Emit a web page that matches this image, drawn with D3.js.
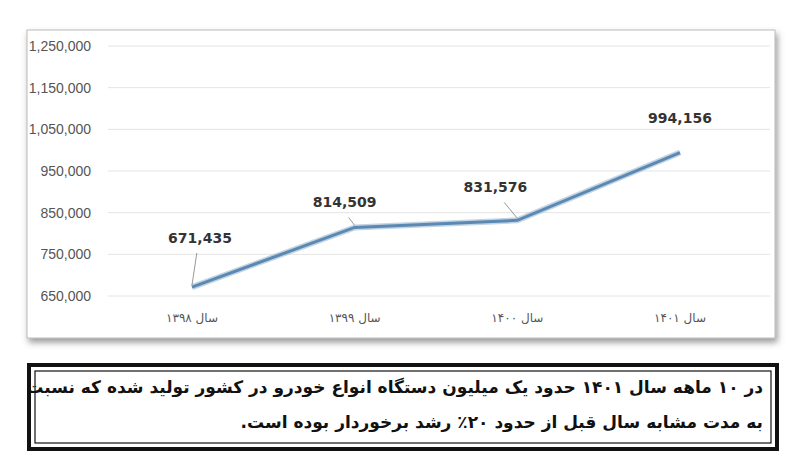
<!DOCTYPE html>
<html><head><meta charset="utf-8">
<script src="https://cdn.jsdelivr.net/npm/d3@7/dist/d3.min.js"></script>
<style>body{margin:0;background:#fff}</style></head>
<body><svg id="c" width="800" height="462"></svg>
<script>
const categories = ["سال ۱۳۹۸","سال ۱۳۹۹","سال ۱۴۰۰","سال ۱۴۰۱"];
const values = [671435, 814509, 831576, 994156];
const yTicks = [650000,750000,850000,950000,1050000,1150000,1250000];
const note = ["در ۱۰ ماهه سال ۱۴۰۱ حدود یک میلیون دستگاه انواع خودرو در کشور تولید شده که نسبت",
              "به مدت مشابه سال قبل از حدود ۲۰٪ رشد برخوردار بوده است."];
const labelOffsets = [[8,-44],[-10,-20],[-22,-28],[0,-30]];

const svg = d3.select("#c");
const defs = svg.append("defs");
const f = defs.append("filter").attr("id","sh").attr("x","-5%").attr("y","-5%").attr("width","110%").attr("height","115%");
f.append("feDropShadow").attr("dx",2).attr("dy",4).attr("stdDeviation",3).attr("flood-color","#555").attr("flood-opacity",0.6);
svg.append("rect").attr("x",27).attr("y",30).attr("width",748).attr("height",308)
  .attr("fill","#fff").attr("stroke","#bbb").attr("filter","url(#sh)");

const y = d3.scaleLinear().domain([650000,1250000]).range([296,46]);
const x = d3.scalePoint().domain(categories).range([192,680]);
const g = svg.append("g");
const ax = d3.axisLeft(y).tickValues(yTicks).tickSize(0).tickFormat(d3.format(","));
const ag = g.append("g").attr("transform","translate(94,0)").call(ax);
ag.select(".domain").remove();
ag.selectAll("text").attr("fill","#555").style("font-family","Liberation Sans, Arial").style("font-size","14px");
g.selectAll(".grid").data(yTicks).join("line").attr("x1",108).attr("x2",770)
  .attr("y1",d=>y(d)).attr("y2",d=>y(d)).attr("stroke","#e4e4e4");
g.selectAll(".xl").data(categories).join("text").attr("x",d=>x(d)).attr("y",322)
  .attr("text-anchor","middle").attr("fill","#555").style("font-family","DejaVu Sans").style("font-size","12px").text(d=>d);

const line = d3.line().x((d,i)=>x(categories[i])).y(d=>y(d));
g.append("path").datum(values).attr("d",line).attr("fill","none").attr("stroke","#9bb7d0").attr("stroke-width",6).attr("opacity",0.6);
g.append("path").datum(values).attr("d",line).attr("fill","none").attr("stroke","#5b89b3").attr("stroke-width",3);

values.forEach((v,i)=>{
  const px=x(categories[i]), py=y(v), o=labelOffsets[i];
  if(i<3) g.append("line").attr("x1",px).attr("y1",py-2).attr("x2",px+o[0]*0.6).attr("y2",py+o[1]+10).attr("stroke","#999");
  g.append("text").attr("x",px+o[0]).attr("y",py+o[1]).attr("text-anchor","middle")
    .style("font-family","DejaVu Sans").style("font-weight","bold").style("font-size","14px").attr("fill","#333")
    .text(d3.format(",")(v));
});

svg.append("rect").attr("x",29).attr("y",365).attr("width",748).attr("height",84).attr("fill","none").attr("stroke","#111").attr("stroke-width",4);
svg.append("rect").attr("x",35).attr("y",371).attr("width",736).attr("height",72).attr("fill","none").attr("stroke","#111").attr("stroke-width",1.2);
note.forEach((t,i)=>svg.append("text").attr("x",763).attr("y",393+i*35).attr("direction","rtl").attr("text-anchor","start")
  .style("font-family","DejaVu Sans").style("font-weight","bold").style("font-size","17px").attr("fill","#111").text(t));
</script></body></html>
